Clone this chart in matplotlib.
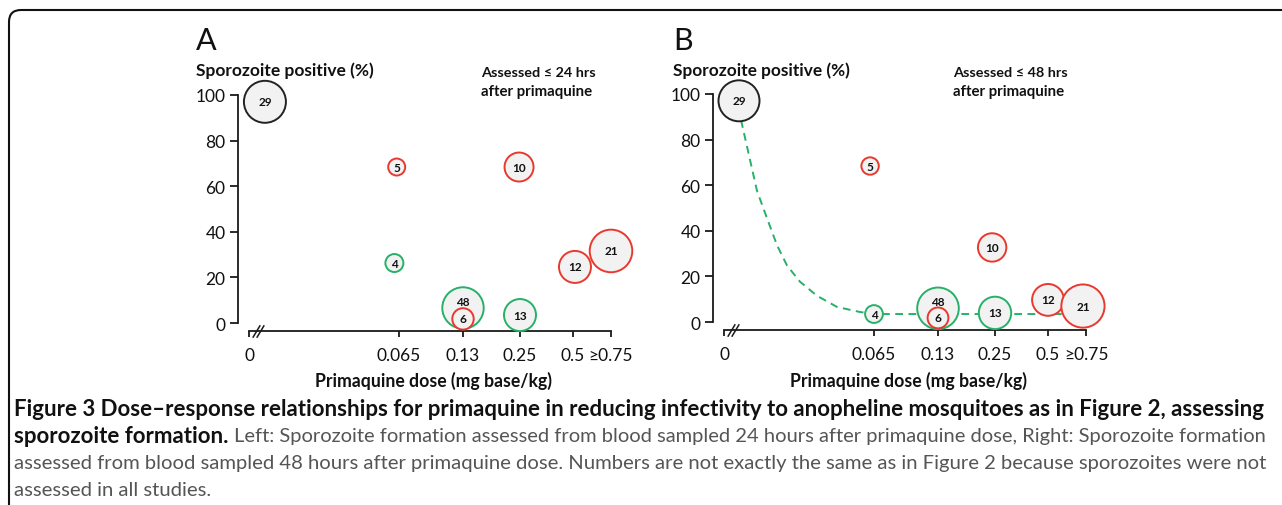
import numpy as np
import matplotlib
matplotlib.use("Agg")
import matplotlib.pyplot as plt
from matplotlib.patches import FancyBboxPatch
from matplotlib.path import Path
import matplotlib.transforms as mtransforms

plt.rcParams['font.family'] = ['Lato', 'DejaVu Sans']

# ---------------- data ----------------
dose_ticks = [0, 0.065, 0.13, 0.25, 0.5, 0.75]
dose_tick_labels = ["0", "0.065", "0.13", "0.25", "0.5", "≥0.75"]
y_ticks = [0, 20, 40, 60, 80, 100]

a_n = [29, 5, 10, 4, 48, 6, 13, 12, 21]
a_dose = [0.0069, 0.064, 0.248, 0.063, 0.13, 0.13, 0.25, 0.513, 0.75]
a_pct = [97, 68.4, 68.4, 26.3, 6.6, 1.8, 3.5, 24.6, 31.6]
a_group = ["control", "red", "red", "green", "green", "red", "green", "red", "red"]
a_weight = [21, 8.5, 14.5, 9, 20.7, 10.7, 16, 16, 21.3]

b_n = [29, 5, 10, 4, 48, 6, 13, 12, 21]
b_dose = [0.0065, 0.0633, 0.244, 0.065, 0.13, 0.13, 0.25, 0.5, 0.73]
b_pct = [97, 68.4, 32.7, 3.5, 6.0, 1.8, 4.0, 9.7, 7.0]
b_group = ["control", "red", "red", "green", "green", "red", "green", "red", "red"]
b_weight = [20.5, 8.7, 14.2, 8.9, 20.8, 10.4, 16.2, 15.9, 21.6]

b_curve_dose = [0.0074, 0.0104, 0.0143, 0.0186, 0.0230, 0.0273, 0.0329, 0.0403,
                0.0490, 0.0589, 0.065, 0.13, 0.25, 0.59]
b_curve_pct = [88.5, 75, 57.5, 45.6, 33.6, 24.8, 17.7, 11.5, 6.6, 4.4, 3.5, 3.5, 3.5, 3.5]

# ---------------- style ----------------
W, H = 1282, 506
edge_colors = {"control": "#222222", "red": "#e8392f", "green": "#27b068"}
face_color = "#f2f2f2"
axis_color = "#1a1a1a"

_pd = np.array([-1.0, 0, 0.065, 0.13, 0.25, 0.5, 0.75, 2.0])
_pp = np.array([-1 / 0.065 * 150, 0, 150, 214, 271, 324, 362, 362 + 1.25 * 152])


def fwd(x):
    return np.interp(x, _pd, _pp)


def inv(p):
    return np.interp(p, _pp, _pd)


fig = plt.figure(figsize=(W / 100, H / 100), dpi=100)
fig.patch.set_facecolor("white")


def px_axes(left, bottom, width, height):
    return fig.add_axes([left / W, 1 - bottom / H, width / W, height / H])


def draw_panel(ax, n, dose, pct, group, weight, label_offsets):
    ax.set_xscale('function', functions=(fwd, inv))
    ax.set_xlim(-11 / 150 * 0.065, 1.0)
    ax.set_ylim(-9.2, 107)
    for s in ['top', 'right']:
        ax.spines[s].set_visible(False)
    ax.spines['left'].set_bounds(0, 100)
    ax.spines['bottom'].set_position(('data', -3.5))
    ax.spines['bottom'].set_bounds(0, 0.75)
    for s in ['left', 'bottom']:
        ax.spines[s].set_linewidth(1.3)
        ax.spines[s].set_color(axis_color)
    ax.set_yticks(y_ticks)
    ax.set_yticklabels([str(v) for v in y_ticks])
    ax.set_xticks(dose_ticks)
    ax.set_xticklabels(dose_tick_labels)
    ax.minorticks_off()
    ax.tick_params(axis='y', direction='out', length=6, width=1.3, color=axis_color,
                   labelsize=12.5, pad=3, labelcolor="#111111")
    ax.tick_params(axis='x', direction='out', length=4.5, width=1.3, color=axis_color,
                   labelsize=12.5, pad=7, labelcolor="#111111")
    ax.patch.set_alpha(0)

    sizes = [(2 * w * 0.72) ** 2 for w in weight]
    ec = [edge_colors[g] for g in group]
    ax.scatter(dose, pct, s=sizes, facecolors=face_color, edgecolors=ec,
               linewidths=1.4, zorder=3, clip_on=False)
    for k, d, p in zip(n, dose, pct):
        ax.annotate(str(k), (d, p), xytext=(0, label_offsets.get(k, 0)),
                    textcoords='offset points', ha='center', va='center',
                    fontsize=8.5, fontweight='bold', color="#111111", zorder=5)

    # axis break marks
    brk = Path([(-0.6, -1), (0.6, 1)], [Path.MOVETO, Path.LINETO])
    for dx in (7, 11):
        tr = mtransforms.offset_copy(ax.transData, fig=fig, x=dx, y=0, units='dots')
        ax.plot([0], [-3.5], marker=brk, markersize=9, color=axis_color,
                markeredgewidth=1.1, transform=tr, clip_on=False, zorder=4)


axA = px_axes(238, 345, 411, 265)
draw_panel(axA, a_n, a_dose, a_pct, a_group, a_weight, {48: 4.5})

axB = px_axes(713, 344, 411, 265)
axB.plot(b_curve_dose, b_curve_pct, linestyle=(0, (4, 2.8)), color=edge_colors["green"],
         linewidth=1.4, zorder=2)
draw_panel(axB, b_n, b_dose, b_pct, b_group, b_weight, {48: 5})

# ---------------- texts ----------------
texts_fit = []


def ftext(x, y, s, fit_w=None, **kw):
    t = fig.text(x / W, 1 - y / H, s, **kw)
    if fit_w is not None:
        texts_fit.append((t, fit_w))
    return t


ftext(196, 41, "A", fontsize=22, va='center', ha='left', color="#111111")
ftext(673, 41, "B", fontsize=22, va='center', ha='left', color="#111111")
for x0, w in ((196, 178), (673, 176)):
    ftext(x0, 71, "Sporozoite positive (%)", fit_w=w, fontsize=12, fontweight='bold',
          va='center', ha='left', color="#111111")
for x0, hrs in ((481, "24"), (953, "48")):
    ftext(x0, 73, "Assessed ≤ %s hrs" % hrs, fit_w=115, fontsize=11, fontweight='bold',
          va='center', ha='left', color="#111111")
    ftext(x0, 92, "after primaquine", fit_w=111, fontsize=11, fontweight='bold',
          va='center', ha='left', color="#111111")
for xc in (434, 908):
    ftext(xc, 381, "Primaquine dose (mg base/kg)", fit_w=237, fontsize=12,
          fontweight='bold', va='center', ha='center', color="#111111")

cap1 = ftext(14, 410, "Figure 3 Dose\u2013response relationships for primaquine in reducing "
             "infectivity to anopheline mosquitoes as in Figure 2, assessing",
             fit_w=1248, fontsize=14, fontweight='bold', va='center', ha='left',
             color="#111111")
cap3 = ftext(14, 464, "assessed from blood sampled 48 hours after primaquine dose. Numbers are "
             "not exactly the same as in Figure 2 because sporozoites were not",
             fit_w=1248, fontsize=14, va='center', ha='left', color="#555555")

fig.canvas.draw()
renderer = fig.canvas.get_renderer()
for _ in range(3):
    for t, w in texts_fit:
        bb = t.get_window_extent(renderer)
        t.set_fontsize(t.get_fontsize() * w / bb.width)
    fig.canvas.draw()

bold_fs = cap1.get_fontsize()
reg_fs = cap3.get_fontsize()
cap2a = ftext(14, 437, "sporozoite formation.", fontsize=bold_fs, fontweight='bold',
              va='center', ha='left', color="#111111")
ftext(14, 491, "assessed in all studies.", fontsize=reg_fs, va='center', ha='left',
      color="#555555")
fig.canvas.draw()
bb = cap2a.get_window_extent(renderer)
cap2b = ftext(bb.x1 + 6, 437, "Left: Sporozoite formation assessed from blood sampled 24 hours "
              "after primaquine dose, Right: Sporozoite formation",
              fontsize=reg_fs, va='center', ha='left', color="#555555")
fig.canvas.draw()
bb2 = cap2b.get_window_extent(renderer)
cap2b.set_fontsize(reg_fs * (1266 - (bb.x1 + 6)) / bb2.width)

# figure frame with rounded top-left corner
frame = FancyBboxPatch((9, -40), 1400, (H - 11) + 40,
                       boxstyle="round,pad=0,rounding_size=12",
                       transform=mtransforms.IdentityTransform(),
                       fill=False, linewidth=1.5, edgecolor="#111111")
fig.add_artist(frame)

fig.savefig("out.png", dpi=100)
